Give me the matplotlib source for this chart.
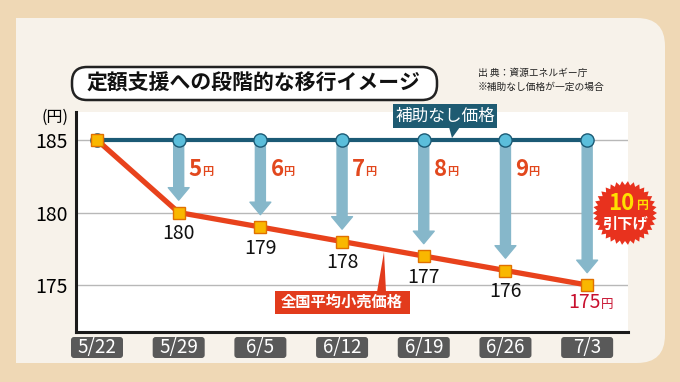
import matplotlib.pyplot as plt
from matplotlib.patches import FancyBboxPatch, Rectangle, Polygon
from matplotlib.transforms import Affine2D
import numpy as np

# data
dates = ['5/22', '5/29', '6/5', '6/12', '6/19', '6/26', '7/3']
base_price = [185, 185, 185, 185, 185, 185, 185]      # 補助なし価格
retail_price = [185, 180, 179, 178, 177, 176, 175]    # 全国平均小売価格
y_ticks = [175, 180, 185]

W, H = 680, 382
plt.rcParams['font.family'] = ['Noto Sans CJK JP', 'DejaVu Sans']

fig = plt.figure(figsize=(W / 100, H / 100), dpi=100)
fig.patch.set_facecolor('#efd8b5')

# pixel coords, y measured from top
pix = Affine2D().scale(1 / W, -1 / H).translate(0, 1) + fig.transFigure


def fx(x):
    return x / W


def fy(y):
    return 1 - y / H


# cream panel, right corners rounded
fig.add_artist(FancyBboxPatch((16, 18), 649, 345, boxstyle='round,pad=0,rounding_size=28',
                              fc='#f7f2ea', ec='none', transform=pix, zorder=-10))
fig.add_artist(Rectangle((16, 18), 400, 345, fc='#f7f2ea', ec='none', transform=pix,
                         zorder=-10))

# title
fig.add_artist(FancyBboxPatch((72, 67), 365, 33, boxstyle='round,pad=0,rounding_size=15',
                              fc='white', ec='#222222', lw=1.8, transform=pix))
fig.text(254, 83, '定額支援への段階的な移行イメージ', transform=pix, ha='center', va='center',
         fontsize=15, fontweight='bold', color='#111111')
fig.text(478, 73, '出 典：資源エネルギー庁', transform=pix, ha='left', va='center',
         fontsize=7, color='#222222')
fig.text(478, 87, '※補助なし価格が一定の場合', transform=pix, ha='left', va='center',
         fontsize=7, color='#222222')

# axes
ax = fig.add_axes([fx(76), fy(332), fx(628) - fx(76), fy(112) - fy(332)])
ax.set_facecolor('white')
x = np.arange(len(dates))
ax.set_xlim(-0.257, 6.5)
ax.set_ylim(171.76, 186.93)
ax.set_yticks(y_ticks)
ax.set_xticks([])
ax.tick_params(axis='y', length=0, pad=6, labelsize=14)
ax.yaxis.grid(True, color='#b8b8b8', lw=1)
ax.set_axisbelow(True)
for s in ['top', 'right']:
    ax.spines[s].set_visible(False)
for s in ['left', 'bottom']:
    ax.spines[s].set_linewidth(2.2)
    ax.spines[s].set_color('#1a1a1a')
fig.text(55, 117, '(円)', transform=pix, ha='center', va='center', fontsize=11.5)

# arrows from base to retail
for i in range(1, len(dates)):
    tip = retail_price[i] + 0.85
    ax.annotate('', xy=(i, tip), xytext=(i, base_price[i]),
                arrowprops=dict(arrowstyle='simple,head_width=1.5,head_length=0.9,tail_width=0.72',
                                mutation_scale=10, color='#86b7ca', shrinkA=0, shrinkB=0),
                zorder=2)
    diff = base_price[i] - retail_price[i]
    if i < len(dates) - 1:
        ax.annotate(str(diff), (i, base_price[i]), xytext=(10, -30), textcoords='offset pixels',
                    ha='left', va='center', fontsize=16, fontweight='bold', color='#e2481e')
        ax.annotate('円', (i, base_price[i]), xytext=(23, -32), textcoords='offset pixels',
                    ha='left', va='center', fontsize=8, fontweight='bold', color='#e2481e')

# lines
ax.plot(x, base_price, color='#1b5a75', lw=3, zorder=3)
ax.plot(x, base_price, ls='none', marker='o', ms=9.5, mfc='#5bbedb', mec='#1b5a75',
        mew=1, zorder=4)
ax.plot(x, retail_price, color='#e8421c', lw=3.8, zorder=5)
ax.plot(x, retail_price, ls='none', marker='s', ms=8, mfc='#f9b700', mec='#e07000',
        mew=1, zorder=6)

# value labels
for i in range(1, len(dates) - 1):
    ax.annotate(str(retail_price[i]), (i, retail_price[i]), xytext=(0, -21),
                textcoords='offset pixels', ha='center', va='center', fontsize=14,
                color='#111111')
last = len(dates) - 1
ax.annotate(str(retail_price[last]), (last, retail_price[last]), xytext=(-3, -17),
            textcoords='offset pixels', ha='center', va='center', fontsize=14,
            color='#c8102e')
ax.annotate('円', (last, retail_price[last]), xytext=(20, -19), textcoords='offset pixels',
            ha='center', va='center', fontsize=9, color='#c8102e')

# date boxes below the axis
fig.canvas.draw()
for i, d in enumerate(dates):
    xp = ax.transData.transform((i, 180))[0]
    fig.add_artist(FancyBboxPatch((xp - 26, 337), 52, 21, boxstyle='round,pad=0,rounding_size=3',
                                  fc='#595959', ec='none', transform=pix))
    fig.text(xp, 347.5, d, transform=pix, ha='center', va='center', fontsize=13.5,
             color='white')

# callout: 補助なし価格
fig.add_artist(Rectangle((393, 104), 104, 24, fc='#1e5b72', ec='none', transform=pix, zorder=7))
fig.add_artist(Polygon([(449, 127), (460, 127), (452, 138)], fc='#1e5b72', ec='none',
                       transform=pix, zorder=7))
fig.text(445, 116, '補助なし価格', transform=pix, ha='center', va='center', fontsize=12,
         color='white', zorder=8)

# callout: 全国平均小売価格
fig.add_artist(Rectangle((275, 291), 135, 23, fc='#e23b1c', ec='none', transform=pix, zorder=7))
fig.add_artist(Polygon([(377, 292), (386, 292), (384, 252)], fc='#e23b1c', ec='none',
                       transform=pix, zorder=7))
fig.text(342, 302, '全国平均小売価格', transform=pix, ha='center', va='center', fontsize=11,
         fontweight='bold', color='white', zorder=8)

# starburst: 10円 引下げ
cx, cy = 625, 213
n = 34
ang = np.linspace(0, 2 * np.pi, 2 * n, endpoint=False)
rad = np.where(np.arange(2 * n) % 2 == 0, 32, 28)
pts = np.column_stack([cx + rad * np.cos(ang), cy + rad * np.sin(ang)])
fig.add_artist(Polygon(pts, fc='#e8321e', ec='none', transform=pix, zorder=7))
fig.text(621, 203, str(base_price[last] - retail_price[last]), transform=pix, ha='center',
         va='center', fontsize=16, fontweight='bold', color='#ffe000', zorder=8)
fig.text(642, 205, '円', transform=pix, ha='center', va='center', fontsize=8.5,
         fontweight='bold', color='#ffe000', zorder=8)
fig.text(625, 224, '引下げ', transform=pix, ha='center', va='center', fontsize=11,
         fontweight='bold', color='white', zorder=8)

fig.savefig('out.png', dpi=100, facecolor=fig.get_facecolor())
